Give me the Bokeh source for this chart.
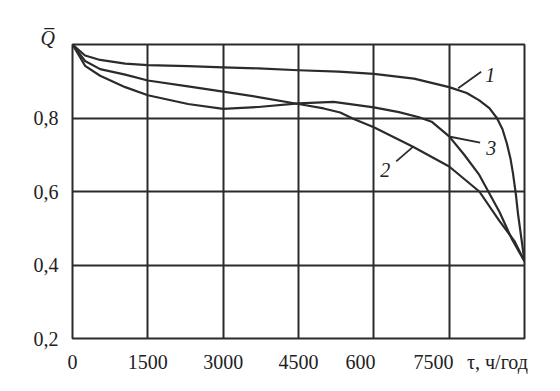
from bokeh.plotting import figure
from bokeh.models import Range1d, FixedTicker, Title
from bokeh.core.properties import value
from bokeh.embed import file_html
from bokeh.resources import INLINE

# ---- data ----
x1 = [0, 250, 550, 1050, 1500, 2300, 3000, 3700, 4500, 5300, 6000, 6800, 7500, 7850, 8100, 8300, 8450, 8560, 8650, 8720, 8770, 8830, 8870, 8950, 9000]
y1 = [1.0, 0.970, 0.958, 0.948, 0.944, 0.941, 0.938, 0.935, 0.930, 0.926, 0.920, 0.907, 0.884, 0.868, 0.848, 0.827, 0.800, 0.770, 0.730, 0.690, 0.650, 0.590, 0.540, 0.460, 0.410]

x2 = [0, 250, 550, 1050, 1500, 2300, 3000, 3700, 4500, 5000, 5330, 5600, 6000, 6780, 7500, 8100, 8500, 8800, 9000]
y2 = [1.0, 0.955, 0.933, 0.918, 0.902, 0.886, 0.872, 0.857, 0.838, 0.826, 0.815, 0.797, 0.775, 0.722, 0.668, 0.600, 0.520, 0.465, 0.410]

x3 = [0, 250, 550, 1050, 1500, 2300, 3000, 3700, 4500, 5200, 6000, 6500, 6900, 7150, 7500, 7800, 8100, 8500, 8750, 9000]
y3 = [1.0, 0.942, 0.915, 0.884, 0.862, 0.838, 0.825, 0.830, 0.840, 0.844, 0.829, 0.816, 0.802, 0.790, 0.750, 0.700, 0.645, 0.545, 0.470, 0.410]

x_grid = [1500, 3000, 4500, 6000, 7500]
# tick labels as printed (the "600" misprint and their shifted places are in the original)
x_label_pos = [0, 1500, 3000, 4500, 5735, 7188, 8462]
x_tick_labels = ["0", "1500", "3000", "4500", "600", "7500", "τ, ч/год"]
y_ticks = [0.2, 0.4, 0.6, 0.8]
y_tick_labels = ["0,2", "0,4", "0,6", "0,8"]
y_label = "Q\u0305"

curve_names = ["1", "2", "3"]
name_x = [8316, 6227, 8336]
name_y = [0.918, 0.658, 0.719]
lead_x0 = [7679, 6446, 7520]
lead_y0 = [0.881, 0.682, 0.749]
lead_x1 = [8137, 6784, 8117]
lead_y1 = [0.926, 0.722, 0.733]

FONT = "Liberation Serif"
INK = "#2b2b2b"
W, H = 544, 375

p = figure(width=W, height=H, output_backend="svg", toolbar_location=None,
           x_range=Range1d(0, 9000), y_range=Range1d(0.2, 1.0),
           min_border_left=72, min_border_right=20, min_border_top=44, min_border_bottom=35)
p.background_fill_color = "white"
p.border_fill_color = "white"
p.outline_line_color = INK
p.outline_line_width = 2

for ax in (p.xaxis[0], p.yaxis[0]):
    ax.axis_line_color = None
    ax.major_tick_line_color = None
    ax.minor_tick_line_color = None
    ax.major_label_text_font = FONT
    ax.major_label_text_font_size = "20px"
    ax.major_label_text_color = "#222222"

p.xaxis.ticker = FixedTicker(ticks=x_label_pos)
p.xaxis.major_label_overrides = {t: l for t, l in zip(x_label_pos, x_tick_labels)}
p.xaxis.major_label_standoff = 6
p.yaxis.ticker = FixedTicker(ticks=y_ticks)
p.yaxis.major_label_overrides = {t: l for t, l in zip(y_ticks, y_tick_labels)}
p.yaxis.major_label_standoff = 8

p.xgrid.ticker = FixedTicker(ticks=x_grid)
p.ygrid.ticker = FixedTicker(ticks=y_ticks[1:])
for g in (p.xgrid[0], p.ygrid[0]):
    g.grid_line_color = INK
    g.grid_line_width = 2
    g.grid_line_alpha = 1.0

for xs, ys in ((x1, y1), (x2, y2), (x3, y3)):
    p.line(xs, ys, line_color=INK, line_width=2.2, line_join="round")

p.segment(x0=lead_x0, y0=lead_y0, x1=lead_x1, y1=lead_y1, line_color=INK, line_width=1.8)
p.text(x=name_x, y=name_y, text=curve_names, text_font=value(FONT), text_font_style="italic",
       text_font_size="20px", text_align="center", text_baseline="middle", text_color="#222222")

p.add_layout(Title(text=y_label, align="left", offset=-32, standoff=-8, text_font=FONT,
                   text_font_style="italic", text_font_size="20px", text_color="#222222"), "above")

open("out.html", "w").write(file_html(p, INLINE))
